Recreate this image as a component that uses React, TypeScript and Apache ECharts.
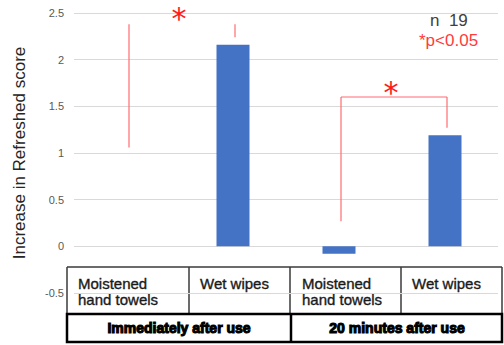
import React, { useEffect, useRef } from "react";
import * as echarts from "echarts";

const categories = [
  "Immediately after use / Moistened hand towels",
  "Immediately after use / Wet wipes",
  "20 minutes after use / Moistened hand towels",
  "20 minutes after use / Wet wipes",
];
const barValues = [0, 2.16, -0.08, 1.19];
// significance bracket segments: [catFrom, yFrom, catTo, yTo]
const bracketSegments = [
  [0, 1.06, 0, 2.38],
  [1, 2.24, 1, 2.38],
  [2, 0.27, 2, 1.6],
  [2, 1.6, 3, 1.6],
  [3, 1.27, 3, 1.6],
];
// asterisks: [catA, catB, y]
const asterisks = [
  [0, 1, 2.47],
  [2, 3, 1.68],
];
const cellLabels = ["Moistened\nhand towels", "Wet wipes", "Moistened\nhand towels", "Wet wipes"];
const groupLabels = ["Immediately after use", "20 minutes after use"];
const yAxisName = "Increase in Refreshed score";
const nText = "n  19";
const pText = "*p<0.05";

export default function App() {
  const ref = useRef<HTMLDivElement>(null);
  useEffect(() => {
    document.body.style.margin = "0";
    const chart = echarts.init(ref.current!, null, { renderer: "svg" });
    const FONT = "Liberation Sans, Arial, sans-serif";
    const cellX = [78, 200, 302, 412];
    const groupX = [179, 397];
    const graphic: any[] = [];
    const rowLine = { stroke: "#3a3a3a", lineWidth: 1.5 };
    graphic.push({ type: "line", shape: { x1: 67, y1: 267, x2: 502, y2: 267 }, style: rowLine });
    [67, 189, 290, 401, 502].forEach((x) =>
      graphic.push({ type: "line", shape: { x1: x, y1: 267, x2: x, y2: 314 }, style: rowLine })
    );
    graphic.push({
      type: "rect",
      shape: { x: 67, y: 314, width: 435, height: 28 },
      style: { fill: "#fff", stroke: "#000", lineWidth: 2.5 },
    });
    graphic.push({ type: "line", shape: { x1: 291, y1: 314, x2: 291, y2: 342 }, style: { stroke: "#000", lineWidth: 2.5 } });
    cellLabels.forEach((t, i) =>
      graphic.push({
        type: "text",
        x: cellX[i],
        y: 275,
        style: {
          text: t,
          fill: "#1a1a1a",
          stroke: "#1a1a1a",
          lineWidth: 0.35,
          font: `15px ${FONT}`,
          lineHeight: 16,
          verticalAlign: "top",
          align: "left",
        },
      })
    );
    groupLabels.forEach((t, i) =>
      graphic.push({
        type: "text",
        x: groupX[i],
        y: 328,
        style: {
          text: t,
          fill: "#000",
          stroke: "#000",
          lineWidth: 1.1,
          font: `bold 14px ${FONT}`,
          verticalAlign: "middle",
          align: "center",
        },
      })
    );
    graphic.push({
      type: "text",
      x: 430,
      y: 20,
      style: { text: nText, fill: "#404040", font: `17px ${FONT}`, verticalAlign: "middle", align: "left" },
    });
    graphic.push({
      type: "text",
      x: 419,
      y: 40,
      style: { text: pText, fill: "#ff3b3b", font: `17px ${FONT}`, verticalAlign: "middle", align: "left" },
    });

    chart.setOption({
      animation: false,
      grid: { left: 74, right: 6, top: 13, bottom: 52 },
      xAxis: {
        type: "category",
        data: categories,
        axisLine: { show: false },
        axisTick: { show: false },
        axisLabel: { show: false },
      },
      yAxis: {
        type: "value",
        min: -0.5,
        max: 2.5,
        interval: 0.5,
        name: yAxisName,
        nameLocation: "middle",
        nameGap: 46,
        nameTextStyle: { fontSize: 17, color: "#262626", fontFamily: FONT },
        axisLine: { show: false },
        axisTick: { show: false },
        axisLabel: { color: "#595959", fontSize: 11, margin: 10, fontFamily: FONT },
        splitLine: { lineStyle: { color: "#d9d9d9", width: 1 } },
      },
      series: [
        {
          type: "bar",
          data: barValues,
          barWidth: 33,
          itemStyle: { color: "#4472c4" },
        },
        {
          type: "custom",
          data: bracketSegments,
          encode: { x: [0, 2], y: [1, 3] },
          renderItem: (params: any, api: any) => {
            const p1 = api.coord([api.value(0), api.value(1)]);
            const p2 = api.coord([api.value(2), api.value(3)]);
            return {
              type: "line",
              shape: { x1: p1[0] + 2, y1: p1[1], x2: p2[0] + 2, y2: p2[1] },
              style: { stroke: "#ff6b70", lineWidth: 1.2 },
            };
          },
          z: 5,
        },
        {
          type: "custom",
          data: asterisks,
          encode: { x: [0, 1], y: 2 },
          renderItem: (params: any, api: any) => {
            const a = api.coord([api.value(0), api.value(2)]);
            const b = api.coord([api.value(1), api.value(2)]);
            return {
              type: "text",
              x: (a[0] + b[0]) / 2 - 1,
              y: a[1] + 3,
              style: {
                text: "*",
                fill: "#ff1a1a",
                font: "30px DejaVu Sans, sans-serif",
                align: "center",
                verticalAlign: "middle",
              },
            };
          },
          z: 6,
        },
      ],
      graphic,
    });
    return () => chart.dispose();
  }, []);
  return <div ref={ref} style={{ width: 504, height: 345 }} />;
}
